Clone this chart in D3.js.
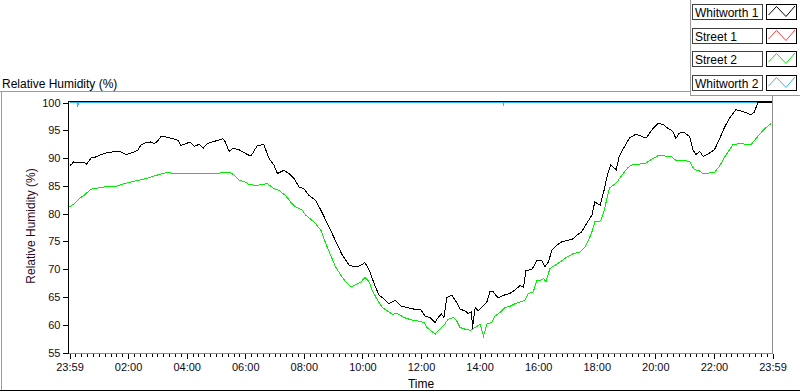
<!DOCTYPE html>
<html><head><meta charset="utf-8">
<script src="https://cdn.jsdelivr.net/npm/d3@7"></script>
<style>
body{margin:0;background:#fff}
svg{display:block}
text{font-family:"Liberation Sans",Arial,sans-serif}
</style>
</head><body>
<svg id="chart" width="800" height="392"></svg>
<script>
// ---------- data (minutes since 23:59, relative humidity %) ----------
const seriesNames = ["Whitworth 1", "Street 1", "Street 2", "Whitworth 2"];
const yTickValues = [55, 60, 65, 70, 75, 80, 85, 90, 95, 100];
const xTickMinutes = [0, 120, 240, 360, 480, 600, 720, 840, 960, 1080, 1200, 1320, 1440];
const xTickLabels = ["23:59", "02:00", "04:00", "06:00", "08:00", "10:00", "12:00", "14:00", "16:00", "18:00", "20:00", "22:00", "23:59"];

const whitworth1 = [
  [0,89.0],[3,88.7],[8,89.3],[20,89.2],[30,89.2],[35,88.9],[44,90.0],[51,90.1],[61,90.5],[75,90.9],
  [88,91.1],[105,91.1],[116,90.6],[129,91.0],[140,91.4],[146,92.3],[157,92.8],[167,92.9],[174,92.6],[181,93.1],
  [187,93.8],[198,93.8],[211,93.5],[222,93.2],[228,92.3],[239,92.6],[247,92.9],[256,92.1],[266,92.5],[274,91.8],
  [283,92.6],[293,92.9],[304,93.2],[314,93.5],[319,92.9],[327,91.2],[334,91.7],[345,91.6],[355,91.1],[365,90.6],
  [372,90.4],[385,92.3],[398,92.4],[409,89.9],[419,88.7],[426,87.2],[439,87.8],[450,87.2],[460,86.3],[470,84.8],
  [480,84.5],[490,83.3],[504,82.4],[515,80.6],[525,78.8],[535,77.0],[549,74.3],[559,72.5],[573,70.7],[586,70.4],
  [597,70.7],[605,71.2],[614,69.8],[624,67.4],[634,65.3],[644,64.7],[654,63.8],[668,64.4],[678,63.4],[692,63.1],
  [706,62.8],[719,62.8],[728,61.6],[738,61.3],[749,60.4],[755,61.3],[762,61.9],[767,61.3],[773,64.9],[783,65.3],
  [793,64.0],[800,62.8],[810,62.5],[817,62.0],[824,62.4],[825,59.2],[831,63.1],[837,62.5],[848,63.5],[855,64.1],
  [861,65.9],[868,65.9],[878,64.8],[889,65.3],[902,65.6],[916,66.5],[923,67.1],[930,66.7],[935,69.8],[947,69.9],
  [957,71.5],[967,71.6],[974,70.5],[981,71.3],[988,73.4],[998,74.3],[1008,74.9],[1019,75.2],[1029,75.3],[1039,76.1],
  [1049,76.7],[1059,78.2],[1070,79.7],[1076,82.1],[1087,81.5],[1095,84.2],[1102,87.0],[1109,88.8],[1116,88.2],[1120,87.9],
  [1126,90.3],[1137,92.1],[1147,93.6],[1160,94.3],[1181,93.6],[1195,95.3],[1205,96.2],[1215,96.1],[1225,95.4],[1236,94.8],
  [1242,93.5],[1249,94.5],[1259,94.6],[1270,93.9],[1277,91.5],[1283,90.6],[1291,91.2],[1298,90.3],[1311,90.9],[1321,91.5],
  [1331,93.3],[1341,95.4],[1352,97.2],[1365,98.7],[1379,98.4],[1396,97.8],[1403,98.3],[1410,100],[1439,100]
];

const street1 = [];

const street2 = [
  [0,81.2],[10,81.8],[20,82.7],[30,83.3],[44,84.4],[58,84.6],[71,84.8],[95,84.9],[112,85.4],[136,85.9],
  [157,86.3],[174,86.8],[191,87.2],[201,87.4],[218,87.2],[252,87.2],[280,87.2],[307,87.3],[327,87.5],[338,86.9],
  [348,86.0],[362,85.6],[368,85.2],[385,85.1],[405,85.4],[419,84.5],[429,84.2],[443,83.2],[453,82.1],[463,81.2],
  [477,80.6],[484,79.7],[501,78.5],[515,77.0],[525,74.6],[535,72.5],[545,70.4],[556,68.9],[566,67.7],[576,66.8],
  [586,67.2],[597,67.7],[605,68.5],[614,67.7],[620,66.2],[631,64.4],[641,63.1],[651,62.5],[661,61.9],[672,62.0],
  [685,61.3],[699,60.9],[712,60.7],[718,60.6],[726,60.4],[732,59.5],[749,58.3],[759,59.2],[766,59.8],[776,61.0],
  [786,61.3],[793,60.7],[800,59.5],[810,59.2],[821,59.0],[831,59.5],[841,60.1],[848,58.0],[855,60.1],[865,60.4],
  [872,61.6],[882,62.2],[892,63.1],[902,63.3],[913,63.8],[923,64.1],[933,64.4],[940,65.6],[950,65.9],[957,68.0],
  [964,68.0],[971,68.3],[976,67.7],[984,70.1],[991,70.5],[1005,71.3],[1019,72.2],[1032,72.8],[1046,73.1],[1056,74.0],
  [1063,75.2],[1070,76.7],[1076,78.5],[1088,78.7],[1095,80.5],[1106,84.6],[1120,85.5],[1130,86.7],[1143,88.2],[1154,88.9],
  [1167,88.9],[1181,89.1],[1191,89.7],[1205,90.4],[1215,90.4],[1232,90.3],[1242,89.6],[1256,89.6],[1270,89.4],[1280,87.9],
  [1290,87.7],[1298,87.2],[1321,87.4],[1331,88.5],[1345,90.6],[1359,92.4],[1372,92.6],[1396,92.4],[1410,93.9],[1423,95.2],
  [1437,96.2]
];

const whitworth2 = [
  [0,100],[16,100],[17,99.2],[18,100],[888,100],[889,99.4],[890,100],[1439,100]
];

// ---------- styling ----------
const colors = ["#000000", "#ff3a3a", "#00ee00", "#33b4ee"];
const seriesData = [whitworth1, street1, street2, whitworth2];

const svg = d3.select("#chart");
const W = 800, H = 392;
svg.append("rect").attr("width", W).attr("height", H).attr("fill", "#fff");

const x = d3.scaleLinear().domain([0, 1440]).range([69.5, 772.5]);
const y = d3.scaleLinear().domain([55, 100]).range([352.5, 102.5]);

// outer panel lines
const frame = svg.append("g").attr("shape-rendering", "crispEdges").attr("fill", "none");
frame.append("path").attr("d", "M0,91.5H690.5V95.5H800").attr("stroke", "#9a9a9a");
frame.append("path").attr("d", "M690.5,0V95.5").attr("stroke", "#9a9a9a");
frame.append("path").attr("d", "M1.5,91V390").attr("stroke", "#9a9a9a");
frame.append("path").attr("d", "M0,390.5H800").attr("stroke", "#000");

// plot frame
frame.append("path").attr("d", "M68.5,101.5H772.5").attr("stroke", "#000");
frame.append("path").attr("d", "M772.5,95.5V353.5H68.5").attr("stroke", "#8c8c8c");

// title
svg.append("text").attr("x", 2).attr("y", 88).attr("font-size", 12).attr("fill", "#000")
  .text("Relative Humidity (%)");

// series
const line = d3.line().x(d => x(d[0])).y(d => y(d[1])).curve(d3.curveLinear);
const drawOrder = [3, 1, 2, 0];
const plot = svg.append("g");
drawOrder.forEach(i => {
  if (!seriesData[i].length) return;
  plot.append("path").datum(seriesData[i])
    .attr("d", line).attr("fill", "none")
    .attr("stroke", colors[i]).attr("stroke-width", 1)
    .attr("shape-rendering", "crispEdges");
});

// y axis
const yAxis = d3.axisLeft(y).tickValues(yTickValues).tickSize(6).tickPadding(2).tickSizeOuter(0);
const gy = svg.append("g").attr("transform", "translate(68.5,0)").call(yAxis);
gy.select(".domain").attr("d", "M0,101V353.5").attr("stroke", "#000");
gy.selectAll(".tick line").attr("stroke", "#000").attr("shape-rendering", "crispEdges");
gy.selectAll(".tick text").attr("font-size", 11).attr("font-family", "Liberation Sans, Arial, sans-serif").attr("fill", "#1a0a14");

// x axis minor ticks
const minor = d3.range(0, 1441, 12);
const gxm = svg.append("g").attr("transform", "translate(0,353.5)")
  .call(d3.axisBottom(x).tickValues(minor).tickSize(3).tickFormat(""));
gxm.select(".domain").remove();
gxm.selectAll(".tick line").attr("stroke", "#000").attr("shape-rendering", "crispEdges");

// x axis major ticks
const gx = svg.append("g").attr("transform", "translate(0,353.5)")
  .call(d3.axisBottom(x).tickValues(xTickMinutes).tickSize(5).tickPadding(5)
    .tickFormat((d, i) => xTickLabels[i]));
gx.select(".domain").remove();
gx.selectAll(".tick line").attr("stroke", "#000").attr("shape-rendering", "crispEdges");
gx.selectAll(".tick text").attr("font-size", 11).attr("font-family", "Liberation Sans, Arial, sans-serif").attr("fill", "#0a0a1e");

// axis titles
svg.append("text").attr("x", 421).attr("y", 388).attr("text-anchor", "middle")
  .attr("font-size", 12).attr("fill", "#000").text("Time");
svg.append("text").attr("transform", "translate(35,226) rotate(-90)").attr("text-anchor", "middle")
  .attr("font-size", 12).attr("fill", "#2a0a1a").text("Relative Humidity (%)");

// legend
const lg = svg.append("g");
seriesNames.forEach((name, i) => {
  const y0 = 4 + i * 23.5;
  const r = lg.append("g").attr("transform", `translate(0,${Math.round(y0)})`);
  r.append("rect").attr("x", 692.5).attr("y", 0.5).attr("width", 70).attr("height", 15)
    .attr("fill", "#fff").attr("stroke", "#404040").attr("shape-rendering", "crispEdges");
  r.append("text").attr("x", 695).attr("y", 12.5).attr("font-size", 12).attr("fill", "#000").text(name);
  r.append("rect").attr("x", 766.5).attr("y", 0.5).attr("width", 30).attr("height", 15)
    .attr("fill", "#fff").attr("stroke", "#000").attr("shape-rendering", "crispEdges");
  r.append("path").attr("d", "M768.5,11L776.5,2.5L786,12.5L795,2")
    .attr("fill", "none").attr("stroke", colors[i]).attr("stroke-width", 1);
});
</script>
</body></html>
